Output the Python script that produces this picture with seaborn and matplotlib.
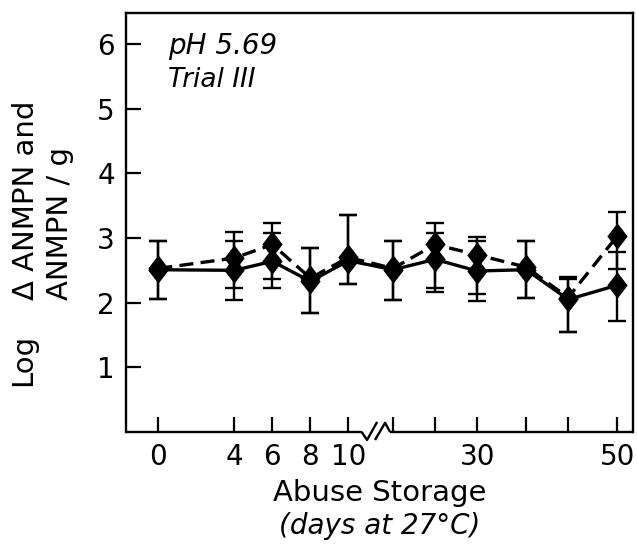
import numpy as np
import pandas as pd
import matplotlib
matplotlib.use("Agg")
import matplotlib.pyplot as plt
from matplotlib.path import Path
import seaborn as sns

# Sampling days of abuse storage at 27 °C
days = [0, 4, 6, 8, 10, 18, 24, 30, 37, 43, 50]
tick_labels = {0: "0", 4: "4", 6: "6", 8: "8", 10: "10", 30: "30", 50: "50"}

# ANMPN/g (solid line): mean log count and error-bar limits
anmpn = [2.51, 2.50, 2.64, 2.33, 2.65, 2.51, 2.67, 2.49, 2.51, 2.05, 2.27]
anmpn_hi = [2.96, 2.95, 3.08, 2.85, 3.36, 2.95, 3.08, 2.95, 2.95, 2.36, 2.79]
anmpn_lo = [2.05, 2.04, 2.23, 1.84, 2.29, 2.04, 2.16, 2.02, 2.08, 1.54, 1.71]

# Delta ANMPN/g (dashed line)
d_anmpn = [2.53, 2.69, 2.90, 2.38, 2.70, 2.53, 2.90, 2.74, 2.55, 2.08, 3.03]
d_anmpn_hi = [2.96, 3.09, 3.23, 2.85, 3.36, 2.95, 3.23, 3.02, 2.95, 2.40, 3.41]
d_anmpn_lo = [2.05, 2.23, 2.37, 1.84, 2.29, 2.04, 2.23, 2.13, 2.08, 1.54, 2.52]


def broken_x(d):
    """Compressed scale after the axis break at 10 days."""
    d = np.asarray(d, dtype=float)
    return np.where(d <= 10, d, 12.35 + (d - 18) * 7 / 19)


series = {
    "ANMPN": (anmpn, anmpn_lo, anmpn_hi),
    "dANMPN": (d_anmpn, d_anmpn_lo, d_anmpn_hi),
}
rows = []
for name, (vals, lo, hi) in series.items():
    for d, v, l, h in zip(days, vals, lo, hi):
        rows.append({"day": d, "pos": float(broken_x(d)), "value": v,
                     "lo": l, "hi": h, "series": name})
df = pd.DataFrame(rows)

sns.set_theme(style="white")
plt.rcParams["font.family"] = ["DejaVu Sans"]
plt.rcParams["text.color"] = "black"

fig = plt.figure(figsize=(6.37, 5.45), dpi=100)
ax = fig.add_axes([126 / 637, 1 - 432 / 545, (633 - 126) / 637, (432 - 13) / 545])

diamond = Path([(0, 1), (0.77, 0), (0, -1), (-0.77, 0), (0, 1)],
               [Path.MOVETO, Path.LINETO, Path.LINETO, Path.LINETO, Path.CLOSEPOLY])

sns.lineplot(data=df, x="pos", y="value", style="series",
             dashes={"ANMPN": "", "dANMPN": (4.2, 2.2)},
             markers={"ANMPN": diamond, "dANMPN": diamond},
             color="black", markersize=19, linewidth=2.4,
             markeredgewidth=0, legend=False, sort=False, ax=ax, zorder=3)

for name, sub in df.groupby("series"):
    yerr = [sub["value"] - sub["lo"], sub["hi"] - sub["value"]]
    ax.errorbar(sub["pos"], sub["value"], yerr=yerr, fmt="none",
                ecolor="black", elinewidth=1.7, capsize=6.5, capthick=1.7,
                zorder=2)

ax.set_xlim(-1.70, 24.97)
ax.set_ylim(0, 6.48)

ax.set_xticks(broken_x(days))
ax.set_xticklabels([tick_labels.get(d, "") for d in days])
ax.set_yticks([1, 2, 3, 4, 5, 6])
ax.tick_params(axis="both", direction="in", length=11, width=1.6,
               colors="black", labelsize=20, bottom=True, left=True)
ax.tick_params(axis="x", pad=8)
ax.tick_params(axis="y", pad=8)
ax.set_xlabel("")
ax.set_ylabel("")

for side in ["top", "right", "left"]:
    ax.spines[side].set_color("black")
    ax.spines[side].set_linewidth(1.7)
ax.spines["bottom"].set_visible(False)

# Bottom axis line with the break between 10 and the later days
xt = ax.get_xaxis_transform()
kw = dict(color="black", lw=1.7, transform=xt, clip_on=False, solid_capstyle="butt")
ax.plot([-1.70, 10.70], [0, 0], **kw)
ax.plot([10.70, 10.98, 11.51], [0, -0.019, 0.024], **kw)
ax.plot([11.40, 11.93, 12.19], [-0.019, 0.022, 0], **kw)
ax.plot([12.19, 24.97], [0, 0], **kw)

ax.text(0.083, 0.955, "pH 5.69", transform=ax.transAxes, fontsize=20,
        style="italic", ha="left", va="top")
ax.text(0.083, 0.87, "Trial III", transform=ax.transAxes, fontsize=19,
        style="italic", ha="left", va="top")

fig.text(380 / 637, 1 - 493 / 545, "Abuse Storage", fontsize=21,
         ha="center", va="center")
fig.text(380 / 637, 1 - 526 / 545, "(days at 27\u00b0C)", fontsize=20,
         style="italic", ha="center", va="center")

fig.text(23 / 637, 1 - 360 / 545, "Log", fontsize=21, rotation=90,
         ha="center", va="center")
fig.text(43 / 637, 1 - 300 / 545, "\u0394 ANMPN and\nANMPN / g", fontsize=21,
         rotation=90, ha="center", va="bottom", multialignment="left",
         linespacing=1.3)

fig.savefig("out.png", dpi=100, facecolor="white")
